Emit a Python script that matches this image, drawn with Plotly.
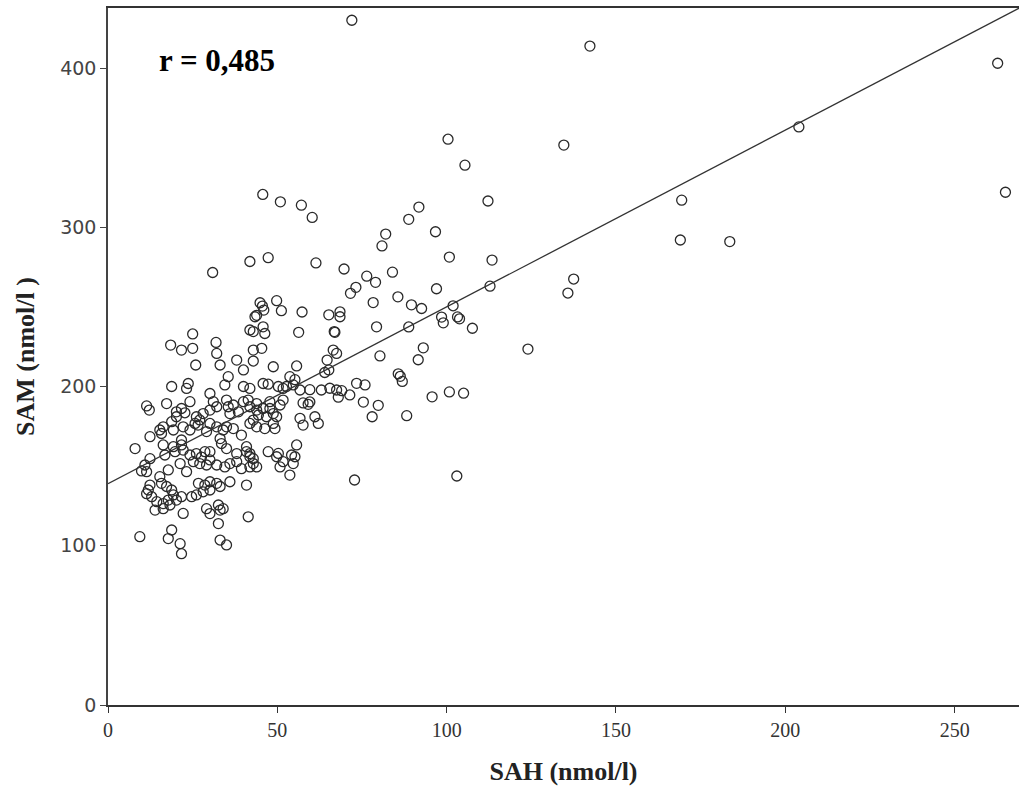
import plotly.graph_objects as go

# SAH (x) and SAM (y) values, nmol/l
sah = [72.0,142.3,262.7,265,204,169.4,169,183.6,134.6,135.8,137.5,124,112.2,113.4,112.8,100.4,105.4,103,105,100.8,107.6,
       91.8,88.8,82,80.9,96.7,100.8,84,97,85.6,89.6,92.6,101.9,98.5,99,103.2,103.8,88.8,93.1,91.6,85.7,86.3,86.9,95.7,88.2,72.8,
       69.7,76.4,79,73.2,71.6,78.3,68.5,68.5,67,79.3,66.5,67.5,80.3,65.5,67.5,69,71.4,73.4,75.9,68,75.4,79.8,78,
       64,65.2,63,
       45.7,50.9,57.1,60.3,47.3,41.9,61.4,30.9,
       44.9,45.6,46,43.4,43.9,49.8,51.2,57.3,65.2,56.3,66.8,
       41.9,42.9,45.8,46.3,45.4,42.9,42.9,48.8,55.7,64.7,
       53.7,55.2,54.7,52.7,45.8,47.3,50.3,51.7,41.9,59.6,56.7,
       57.6,59.6,59.1,51.7,50.8,47.8,
       43.9,41.9,43.9,45.8,47.8,48.8,49.8,46.8,44.4,42.9,43.9,46.3,48.8,49.3,
       56.7,57.6,61.1,62.1,
       55.7,47.3,50.3,54.2,55.2,
       41.9,42.9,43.9,49.8,50.8,51.7,54.7,53.7,
       25,31.9,18.5,21.7,25,32.1,
       25.9,33.1,38,40,
       35.5,34.5,18.8,23.7,23.2,40,30.1,
       17.3,11.4,12.2,24.2,21.7,20.2,31.1,35,37,40,41.4,
       26.1,27.1,25.7,26.6,22.7,
       20.2,18.8,16.3,15.3,19.3,12.4,8,16.3,19.3,21.7,
       24.2,29.1,30.1,32.1,34,33.1,
       28.1,30.1,32.1,35.5,36,38.5,
       35,37,39.4,41.9,
       33.5,35,40.9,41.9,38,
       12.4,16.8,19.8,22.2,10.9,11.4,17.8,15.3,12.4,11.9,12.9,11.4,
       15.8,17.3,18.8,19.3,17.8,16.3,14.4,13.9,16.3,18.3,20.2,21.7,22.2,24.7,26.1,
       21.3,23.2,25.2,27.1,29.1,30.1,
       24.2,26.1,27.6,28.6,30.1,
       26.7,28.6,30.1,28.1,30.1,32.1,33.1,
       29.1,30.1,32.6,33.1,34,32.6,
       32.1,34.5,36,38,39.4,41.9,42.9,40.9,
       36,40.9,41.4,9.4,18.8,17.8,21.3,21.7,33.1,35,
       15.8,22.2,21.7,9.9]
sam = [430,413.8,403,322,363,317,292,291,351.6,258.7,267.5,223.5,316.5,279.4,263,355.3,339,143.8,195.8,196.6,236.6,
       312.7,305,295.7,288.3,297.2,281.3,271.8,261.4,256.3,251.3,249,250.7,243.6,240,243.7,242.5,237.4,224.3,216.8,208,206.4,203.2,193.5,181.7,141.3,
       273.8,269.3,265.4,262.3,258.5,252.7,246.9,243.8,234,237.5,222.9,220.8,219.2,198.9,197.8,197.4,194.7,202,201,193.3,190.2,188.2,181,
       208.8,210.4,197.8,
       320.6,316,313.9,306.2,280.9,278.5,277.6,271.6,
       252.6,250.5,248,243.8,244.7,253.9,247.6,246.8,245,234,234.5,
       235.5,234.5,237.5,233.3,224,222.9,216,212.4,212.9,216.6,
       206.2,204.3,201,200,201.9,201.5,200,198.8,198.8,198,197.8,
       189.7,190.3,188.8,191.5,188.4,190.5,
       189.3,187.3,185.2,186.2,186.2,183,181,181,182.1,178.9,174.7,173.6,176.8,173.6,
       180,175.8,181,176.8,
       163.3,159.1,158,157,155.9,
       155.9,151.6,149.5,155.9,149.5,152.8,151.6,144.4,
       233,227.7,226,222.9,224,220.8,
       213.5,213.5,216.6,210.4,
       206.2,201,200,201.9,198.8,200,195.6,
       189.3,187.8,185.2,190.5,186.2,184.1,190.5,191.5,188.4,190.5,191.5,
       181,179,176.8,175.8,183.5,
       181,177.9,174.7,172.7,172.7,168.5,161,163.3,162.2,163.3,
       172.7,171.7,176.8,174.7,172.7,167.3,
       183,185.2,187.3,187.3,183,184.1,
       174.7,173.6,169.5,176.8,
       164.2,161,162.2,157.9,157.9,
       154.7,157,159.1,160.1,150.7,146.5,147.6,143.4,138.1,135,130.8,132.7,
       139.2,137.2,135,131.9,128.7,126.5,127.7,122.4,123.3,125.6,128.7,130.8,120.3,130.8,131.9,
       151.6,146.5,152.8,151.6,150.7,153.9,
       157,157.9,155.7,159.1,159.1,
       139.2,138.1,140.2,133.9,135,139.2,137.2,
       123.3,120.2,125.6,122.4,123.3,113.9,
       150.7,149.5,151.6,152.8,148.4,149.5,154.7,159.1,
       140.2,138.1,118.2,105.7,109.9,104.5,101.3,95,103.6,100.5,
       170.5,174.7,166.4,147]

# fit line
fit_intercept = 139.0
fit_slope = 1.11
x_range = [0, 269]
y_range = [0, 437.7]
x_ticks = [0, 50, 100, 150, 200, 250]
y_ticks = [0, 100, 200, 300, 400]
r_label = "r = 0,485"

fig = go.Figure()
fig.add_trace(go.Scatter(
    x=sah, y=sam, mode="markers",
    marker=dict(symbol="circle-open", size=10, color="#2a2a2a", line=dict(width=1.3, color="#2a2a2a")),
    showlegend=False, hoverinfo="x+y"))
fig.add_trace(go.Scatter(
    x=x_range, y=[fit_intercept + fit_slope * v for v in x_range],
    mode="lines", line=dict(color="#333333", width=1.3), showlegend=False))

fig.add_annotation(x=32.2, y=405, xref="x", yref="y", text="<b>" + r_label + "</b>", showarrow=False,
                   font=dict(family="Liberation Serif", size=31, color="black"))

fig.update_layout(
    width=1019, height=800, margin=dict(l=108, r=0, t=8, b=95),
    paper_bgcolor="white", plot_bgcolor="white",
    xaxis=dict(range=x_range, tickvals=x_ticks, showgrid=False, zeroline=False,
               showline=True, linecolor="#333333", linewidth=1.5, mirror=True,
               ticks="outside", ticklen=6, tickcolor="#333333",
               tickfont=dict(family="Liberation Serif", size=20, color="#333333"),
               title=dict(text="<b>SAH (nmol/l)</b>", standoff=22,
                          font=dict(family="Liberation Serif", size=26, color="#222222"))),
    yaxis=dict(range=y_range, tickvals=y_ticks, showgrid=False, zeroline=False,
               showline=True, linecolor="#444444", linewidth=1.5,
               ticks="outside", ticklen=6, tickcolor="#444444",
               tickfont=dict(family="DejaVu Sans", size=19, color="#444444"),
               title=dict(text="<b>SAM (nmol/l )</b>", standoff=18,
                          font=dict(family="Liberation Serif", size=26, color="#222222"))),
)
fig.write_html("out.html")
